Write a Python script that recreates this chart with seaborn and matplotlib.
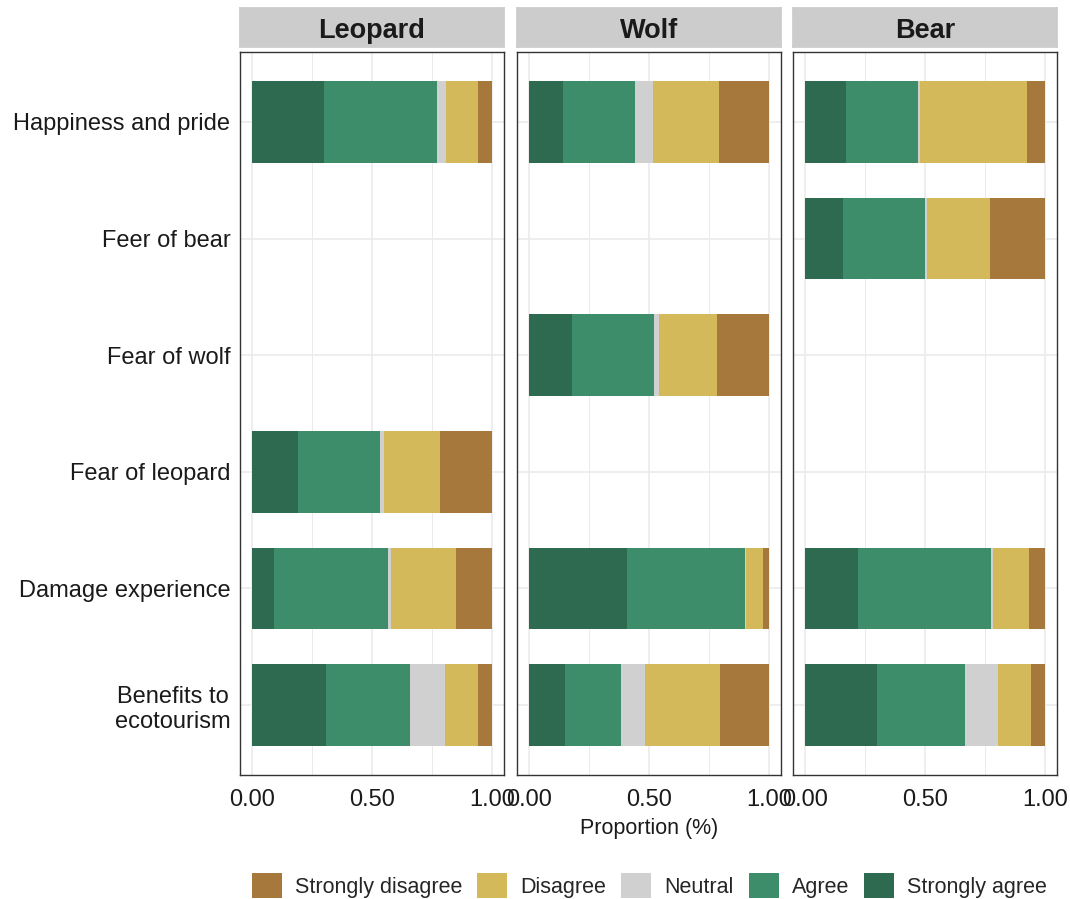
import pandas as pd
import matplotlib
matplotlib.use("Agg")
import matplotlib.pyplot as plt
import seaborn as sns
from matplotlib.patches import Patch

# response levels (legend order) and colours
levels = ['Strongly disagree', 'Disagree', 'Neutral', 'Agree', 'Strongly agree']
level_colors = ['#A6783C', '#D3B95A', '#D0D0D0', '#3D8C6A', '#2D6A50']

items = ['Happiness and pride', 'Feer of bear', 'Fear of wolf', 'Fear of leopard',
         'Damage experience', 'Benefits to\necotourism']
animals = ['Leopard', 'Wolf', 'Bear']

# Leopard
leopard_items = ['Happiness and pride', 'Fear of leopard', 'Damage experience', 'Benefits to\necotourism']
leopard_sa = [0.30, 0.19, 0.09, 0.31]
leopard_a = [0.47, 0.345, 0.475, 0.35]
leopard_n = [0.04, 0.015, 0.015, 0.145]
leopard_d = [0.13, 0.235, 0.27, 0.135]
leopard_sd = [0.06, 0.215, 0.15, 0.06]

# Wolf
wolf_items = ['Happiness and pride', 'Fear of wolf', 'Damage experience', 'Benefits to\necotourism']
wolf_sa = [0.14, 0.18, 0.41, 0.15]
wolf_a = [0.30, 0.34, 0.49, 0.235]
wolf_n = [0.075, 0.02, 0.005, 0.10]
wolf_d = [0.275, 0.245, 0.07, 0.31]
wolf_sd = [0.21, 0.215, 0.025, 0.205]

# Bear
bear_items = ['Happiness and pride', 'Feer of bear', 'Damage experience', 'Benefits to\necotourism']
bear_sa = [0.17, 0.16, 0.22, 0.30]
bear_a = [0.30, 0.34, 0.555, 0.365]
bear_n = [0.01, 0.01, 0.01, 0.14]
bear_d = [0.445, 0.26, 0.15, 0.135]
bear_sd = [0.075, 0.23, 0.065, 0.06]

rows = []
for animal, its, vals in [
    ('Leopard', leopard_items, [leopard_sd, leopard_d, leopard_n, leopard_a, leopard_sa]),
    ('Wolf', wolf_items, [wolf_sd, wolf_d, wolf_n, wolf_a, wolf_sa]),
    ('Bear', bear_items, [bear_sd, bear_d, bear_n, bear_a, bear_sa]),
]:
    for lev, v in zip(levels, vals):
        for it, x in zip(its, v):
            rows.append({'animal': animal, 'item': it, 'response': lev, 'prop': x})
df = pd.DataFrame(rows)

# cumulative from "Strongly agree" on the left
stack_order = levels[::-1]
df['response'] = pd.Categorical(df['response'], stack_order, ordered=True)
df = df.sort_values(['animal', 'item', 'response'])
df['cum'] = df.groupby(['animal', 'item'])['prop'].cumsum()

sns.set_theme(style='white')
plt.rcParams['font.family'] = ['Liberation Sans', 'DejaVu Sans']

fig = plt.figure(figsize=(10.7, 8.99), dpi=100)
W, H = 1070, 899
panel_x = [240, 517, 793]
panel_w = 264
panel_top, panel_bot = 52, 775
strip_top, strip_bot = 8, 47

for i, animal in enumerate(animals):
    ax = fig.add_axes([panel_x[i] / W, 1 - panel_bot / H, panel_w / W, (panel_bot - panel_top) / H])
    sub = df[df['animal'] == animal]
    # draw widest cumulative first so shorter ones sit on top
    for lev, col in zip(levels, level_colors):
        d = sub[sub['response'] == lev]
        sns.barplot(data=d, x='cum', y='item', order=items, color=col, orient='h',
                    errorbar=None, width=0.7, linewidth=0, saturation=1, ax=ax)
    ax.set_xlim(-0.05, 1.05)
    ax.set_ylim(5.6, -0.6)
    ax.set_xticks([0, 0.5, 1.0])
    ax.set_xticklabels(['0.00', '0.50', '1.00'])
    ax.set_xticks([0.25, 0.75], minor=True)
    ax.set_axisbelow(True)
    ax.grid(True, which='major', color='#EBEBEB', linewidth=1.2)
    ax.grid(True, which='minor', axis='x', color='#EBEBEB', linewidth=0.7)
    for s in ax.spines.values():
        s.set_color('#333333')
        s.set_linewidth(1.0)
    ax.tick_params(axis='both', which='major', length=4, width=1, color='#333333',
                   labelsize=17, labelcolor='#1A1A1A', pad=3)
    ax.tick_params(axis='x', which='major', pad=6)
    ax.tick_params(axis='x', which='minor', length=0)
    ax.set_xlabel('')
    ax.set_ylabel('')
    if i == 0:
        ax.tick_params(axis='y', labelsize=17)
        for lab in ax.get_yticklabels():
            lab.set_horizontalalignment('right')
            lab.set_multialignment('center')
    else:
        ax.set_yticklabels([])
        ax.tick_params(axis='y', length=0)
    if i == 1:
        ax.set_xlabel('Proportion (%)', fontsize=15.5, color='#1A1A1A', labelpad=5)

    # facet strip
    sax = fig.add_axes([panel_x[i] / W, 1 - strip_bot / H, panel_w / W, (strip_bot - strip_top) / H])
    sax.set_facecolor('#CCCCCC')
    sax.set_xticks([])
    sax.set_yticks([])
    for s in sax.spines.values():
        s.set_color('#CCCCCC')
    sax.text(0.5, 0.4, animal, ha='center', va='center', fontsize=19.5,
             fontweight='bold', color='#1A1A1A', transform=sax.transAxes)

handles = [Patch(facecolor=c, edgecolor='none') for c in level_colors]
fig.legend(handles, levels, loc='center', ncol=5, bbox_to_anchor=(0.607, 0.015),
           frameon=False, fontsize=15.5, handlelength=1.4, handleheight=1.4,
           columnspacing=0.7, handletextpad=0.6)

fig.savefig('out.png', dpi=100)
